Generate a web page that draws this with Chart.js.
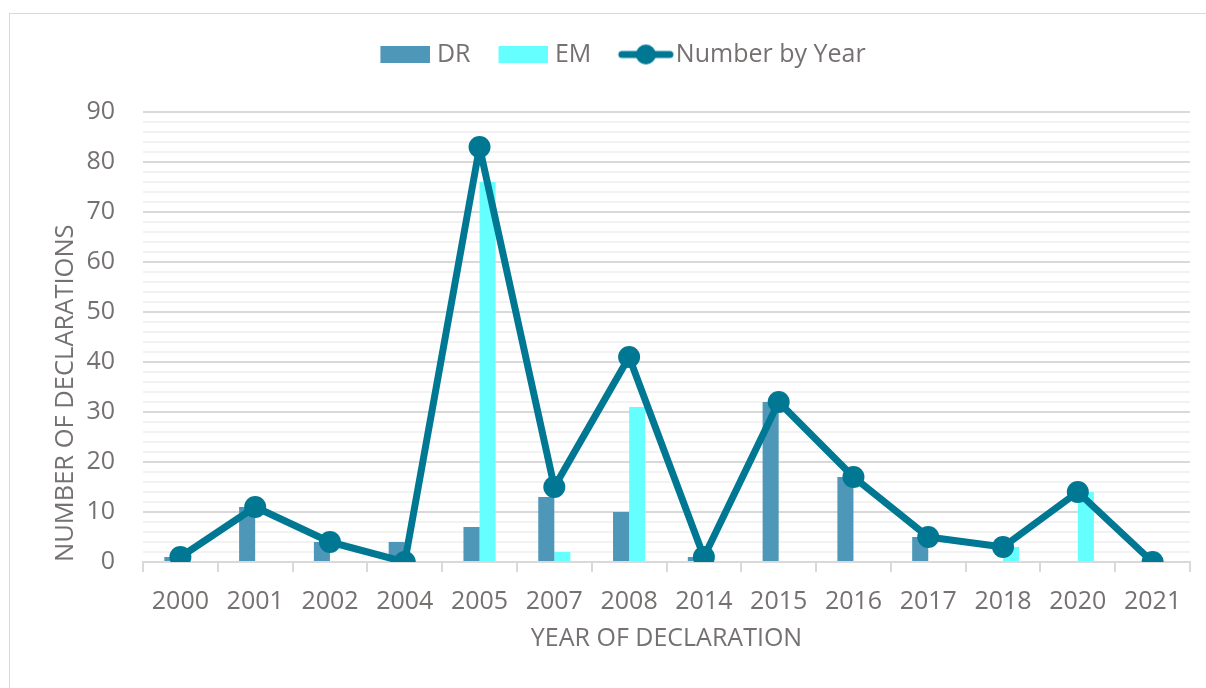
<!DOCTYPE html>
<html>
<head>
<meta charset="utf-8">
<script src="https://cdn.jsdelivr.net/npm/chart.js@4"></script>
<style>
  html, body { margin: 0; padding: 0; background: #fff; overflow: hidden; }
  #wrap { position: relative; width: 1206px; height: 688px; }
  #frame { position: absolute; left: 9px; top: 13px; width: 1400px; height: 900px; border: 1.5px solid #d9d9d9; }
  #c { position: absolute; left: 0; top: 0; }
</style>
</head>
<body>
<div id="wrap">
  <div id="frame"></div>
  <canvas id="c" width="1206" height="688"></canvas>
</div>
<script>
const years = ['2000', '2001', '2002', '2004', '2005', '2007', '2008', '2014', '2015', '2016', '2017', '2018', '2020', '2021'];
const drValues = [1, 11, 4, 4, 7, 13, 10, 1, 32, 17, 5, 0, 0, 0];
const emValues = [0, 0, 0, 0, 76, 2, 31, 0, 0, 0, 0, 3, 14, 0];
const totalValues = [1, 11, 4, 0, 83, 15, 41, 1, 32, 17, 5, 3, 14, 0];
const yLabels = ['0', '10', '20', '30', '40', '50', '60', '70', '80', '90'];

const textColor = '#767171';
const fontFamily = '"Open Sans", sans-serif';
const lineColor = '#007893';

// legend icons: drawn to the right side of a wider canvas so the gap to the text is small
function boxIcon(color) {
  const cv = document.createElement('canvas');
  cv.width = 62; cv.height = 17;
  const g = cv.getContext('2d');
  g.fillStyle = color;
  g.fillRect(12, 0, 50, 17);
  return cv;
}
function lineIcon(color) {
  const cv = document.createElement('canvas');
  cv.width = 71; cv.height = 22;
  const g = cv.getContext('2d');
  g.strokeStyle = color;
  g.lineWidth = 7;
  g.lineCap = 'round';
  g.beginPath(); g.moveTo(19, 11); g.lineTo(67, 11); g.stroke();
  g.fillStyle = color;
  g.beginPath(); g.arc(43, 11, 10, 0, Math.PI * 2); g.fill();
  return cv;
}
const icons = [boxIcon('#4f97b8'), boxIcon('#66ffff'), lineIcon(lineColor)];

// extra space under the legend
const legendGap = {
  id: 'legendGap',
  afterInit(chart) {
    const fit = chart.legend.fit;
    chart.legend.fit = function () {
      fit.call(this);
      this.height += 35;
    };
  }
};

new Chart('c', {
  type: 'bar',
  data: {
    labels: years,
    datasets: [
      {
        label: 'DR',
        data: drValues,
        backgroundColor: '#4f97b8',
        order: 1,
        categoryPercentage: 0.43,
        barPercentage: 1
      },
      {
        label: 'EM',
        data: emValues,
        backgroundColor: '#66ffff',
        order: 1,
        categoryPercentage: 0.43,
        barPercentage: 1
      },
      {
        type: 'line',
        label: 'Number by Year',
        data: totalValues,
        borderColor: lineColor,
        backgroundColor: lineColor,
        borderWidth: 7,
        borderJoinStyle: 'round',
        borderCapStyle: 'round',
        pointRadius: 11,
        pointHoverRadius: 11,
        pointBorderWidth: 0,
        pointBackgroundColor: lineColor,
        order: 0
      }
    ]
  },
  plugins: [legendGap],
  options: {
    responsive: false,
    animation: false,
    layout: { padding: { left: 50, right: 16, top: 20, bottom: 28 } },
    plugins: {
      tooltip: { enabled: false },
      legend: {
        position: 'top',
        labels: {
          color: textColor,
          font: { family: fontFamily, size: 25 },
          usePointStyle: true,
          pointStyleWidth: 50,
          padding: 22,
          generateLabels: chart => chart.data.datasets.map((ds, i) => ({
            text: ds.label,
            fontColor: textColor,
            pointStyle: icons[i],
            datasetIndex: i,
            hidden: false,
            lineWidth: 0
          }))
        }
      }
    },
    scales: {
      x: {
        afterFit: scale => { scale.height = 98; },
        grid: {
          offset: true,
          drawOnChartArea: false,
          drawTicks: true,
          tickLength: 10,
          color: '#d9d9d9',
          lineWidth: 2
        },
        border: { color: '#d9d9d9', width: 2 },
        ticks: {
          color: textColor,
          font: { family: fontFamily, size: 25 },
          padding: 15,
          maxRotation: 0
        },
        title: {
          display: true,
          text: 'YEAR OF DECLARATION',
          color: textColor,
          font: { family: fontFamily, size: 25 },
          padding: { top: 0, bottom: 6 }
        }
      },
      y: {
        min: 0,
        max: 90,
        afterFit: scale => { scale.width = 93; },
        grid: {
          drawTicks: false,
          color: ctx => (ctx.tick && ctx.tick.value % 10 === 0) ? '#d9d9d9' : '#f2f2f2',
          lineWidth: 2
        },
        border: { display: false },
        ticks: {
          stepSize: 2,
          autoSkip: false,
          color: textColor,
          font: { family: fontFamily, size: 25 },
          padding: 28,
          callback: v => yLabels.includes(String(v)) ? String(v) : ''
        },
        title: {
          display: true,
          align: 'start',
          text: 'NUMBER OF DECLARATIONS',
          color: textColor,
          font: { family: fontFamily, size: 25.5 },
          padding: { top: 0, bottom: 0 }
        }
      }
    }
  }
});
</script>
</body>
</html>
